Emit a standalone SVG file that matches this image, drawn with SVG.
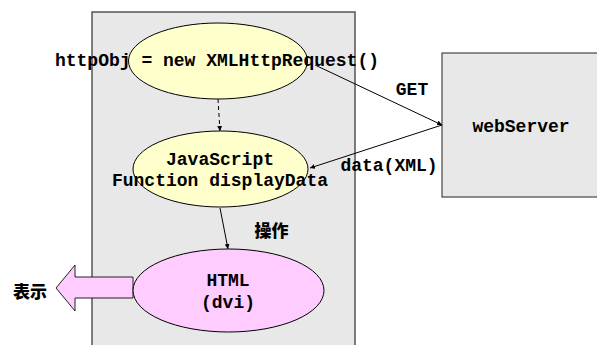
<svg xmlns="http://www.w3.org/2000/svg" width="597" height="345" viewBox="0 0 597 345">
<defs>
<style>
.t{font-family:"Liberation Mono","Courier New",monospace;font-weight:bold;font-size:18px;fill:#000;text-anchor:middle}
.cjk{font-family:"Noto Sans CJK SC","Noto Sans CJK JP",sans-serif;font-weight:900;font-size:17px;fill:#000;text-anchor:middle}
.line{stroke:#000;stroke-width:1;fill:none}
</style>
<marker id="ah" viewBox="0 0 8 8" refX="8" refY="4" markerWidth="5" markerHeight="5" orient="auto" markerUnits="userSpaceOnUse">
<path d="M0,0 L8,4 L0,8 z" fill="#000"/>
</marker>
</defs>
<rect width="597" height="345" fill="#fff"/>
<g id="browser">
<rect x="92" y="12" width="263" height="340" fill="#e8e8e8" stroke="#555" stroke-width="1.5"/>
</g>
<g id="webServer">
<rect x="442" y="53" width="160" height="144" fill="#e8e8e8" stroke="#222" stroke-width="1"/>
<text class="t" x="521" y="132">webServer</text>
</g>
<g id="display-arrow">
<polygon points="56,288 75,265 75,277 133,277 133,298 75,298 75,311" fill="#ffccff" stroke="#222" stroke-width="1"/>
<text class="cjk" x="30" y="298">表示</text>
</g>
<g id="httpObj">
<ellipse cx="218" cy="61" rx="89.5" ry="38" fill="#ffffcc" stroke="#000"/>
<text class="t" x="217" y="66">httpObj = new XMLHttpRequest()</text>
</g>
<g id="displayData">
<ellipse cx="220.5" cy="169" rx="87.5" ry="38" fill="#ffffcc" stroke="#000"/>
<text class="t" x="220" y="165">JavaScript</text>
<text class="t" x="220" y="186">Function displayData</text>
</g>
<g id="html">
<ellipse cx="228.5" cy="290.5" rx="95.5" ry="41.5" fill="#ffccff" stroke="#000"/>
<text class="t" x="228" y="286">HTML</text>
<text class="t" x="228" y="308">(dvi)</text>
</g>
<g id="connectors">
<line class="line" x1="218" y1="99" x2="220" y2="131" stroke-dasharray="4,3" marker-end="url(#ah)"/>
<line class="line" x1="315" y1="65" x2="442" y2="125" marker-end="url(#ah)"/>
<line class="line" x1="442" y1="125" x2="310" y2="168" marker-end="url(#ah)"/>
<line class="line" x1="220" y1="208" x2="228" y2="249" marker-end="url(#ah)"/>
<text class="t" x="412" y="95">GET</text>
<text class="t" x="389" y="171">data(XML)</text>
<text class="cjk" x="271.5" y="237">操作</text>
</g>
</svg>
